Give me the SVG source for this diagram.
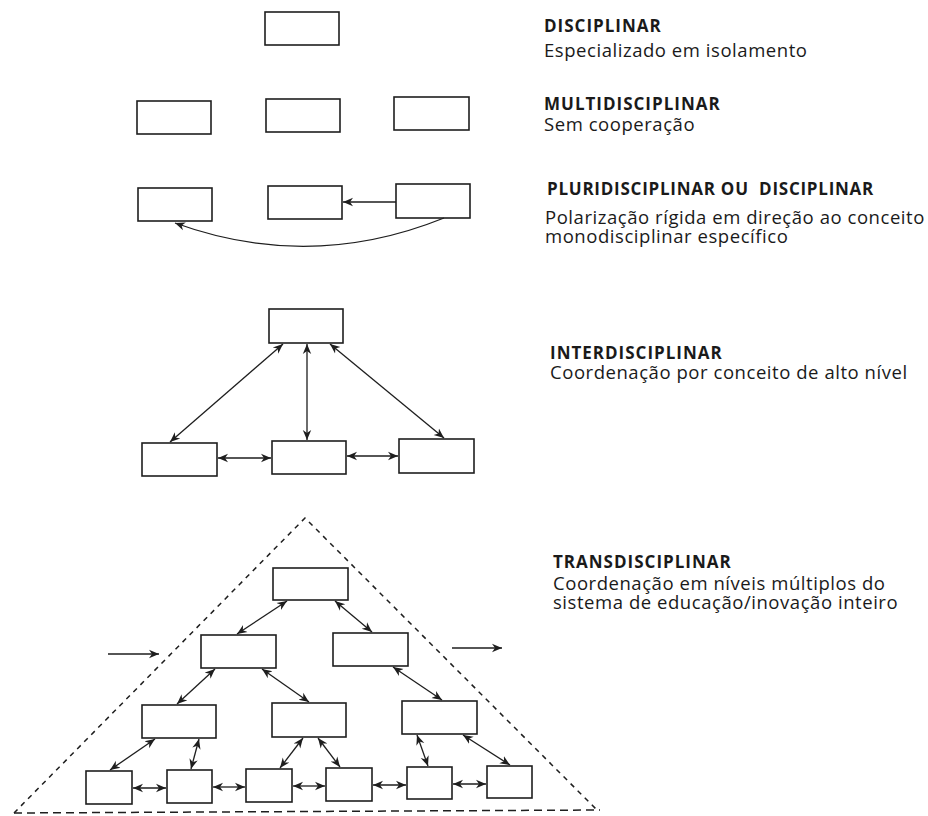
<svg xmlns="http://www.w3.org/2000/svg" width="928" height="816" viewBox="0 0 928 816">
<style>
.box{fill:#fff;stroke:#1e1e1e;stroke-width:1.6}
.ln{fill:none;stroke:#1e1e1e;stroke-width:1.3}
.ar{marker-end:url(#ah)}
.dr{marker-start:url(#ah);marker-end:url(#ah)}
.dash{fill:none;stroke:#1e1e1e;stroke-width:1.5;stroke-dasharray:5,5}
.dashb{fill:none;stroke:#1e1e1e;stroke-width:1.5;stroke-dasharray:8,5}
.t{font-family:"Open Sans","Noto Sans",sans-serif;font-weight:bold;font-size:17px;letter-spacing:1px;fill:#1a1a1a;white-space:pre}
.d{font-family:"Open Sans","Noto Sans",sans-serif;font-size:18.5px;letter-spacing:0.55px;fill:#1a1a1a}
</style>
<defs>
<marker id="ah" viewBox="0 0 10 10" refX="10" refY="5" markerWidth="10" markerHeight="10" markerUnits="userSpaceOnUse" orient="auto-start-reverse">
<path d="M0,0.8 L10,5 L0,9.2 L3,5 z" fill="#1e1e1e"/>
</marker>
</defs>
<rect width="928" height="816" fill="#fff"/>

<g id="disciplinar">
<rect id="d1" class="box" x="265" y="12" width="74" height="33"/>
</g>
<g id="multidisciplinar">
<rect id="m1" class="box" x="137" y="101" width="74" height="33"/>
<rect id="m2" class="box" x="266" y="99" width="74" height="33"/>
<rect id="m3" class="box" x="394" y="97" width="75" height="33"/>
</g>
<g id="pluridisciplinar">
<rect id="p1" class="box" x="138" y="188" width="74" height="33"/>
<rect id="p2" class="box" x="268" y="186" width="74" height="33"/>
<rect id="p3" class="box" x="396" y="184" width="74" height="34"/>
</g>
<g id="interdisciplinar">
<rect id="i0" class="box" x="269" y="309" width="74" height="34"/>
<rect id="i1" class="box" x="142" y="443" width="75" height="33"/>
<rect id="i2" class="box" x="272" y="441" width="74" height="33"/>
<rect id="i3" class="box" x="399" y="439" width="75" height="34"/>
</g>
<g id="transdisciplinar">
<rect id="t0" class="box" x="273" y="568" width="75" height="32"/>
<rect id="t1" class="box" x="201" y="635" width="75" height="33"/>
<rect id="t2" class="box" x="333" y="633" width="75" height="33"/>
<rect id="t3" class="box" x="142" y="705" width="74" height="33"/>
<rect id="t4" class="box" x="272" y="703" width="74" height="34"/>
<rect id="t5" class="box" x="402" y="701" width="75" height="33"/>
<rect id="b1" class="box" x="86" y="771" width="46" height="33"/>
<rect id="b2" class="box" x="167" y="770" width="45" height="33"/>
<rect id="b3" class="box" x="246" y="769" width="46" height="33"/>
<rect id="b4" class="box" x="326" y="768" width="46" height="33"/>
<rect id="b5" class="box" x="407" y="767" width="45" height="32"/>
<rect id="b6" class="box" x="487" y="766" width="45" height="32"/>
</g>

<g id="connectors">
<line class="ln ar" x1="396" y1="202" x2="343" y2="202"/>
<path class="ln ar" d="M444,218 Q310,272 175,223"/>

<line class="ln dr" x1="283" y1="344" x2="170" y2="442"/>
<line class="ln dr" x1="307" y1="344" x2="307" y2="440"/>
<line class="ln dr" x1="330" y1="344" x2="444" y2="438"/>
<line class="ln dr" x1="218" y1="458" x2="271" y2="458"/>
<line class="ln dr" x1="347" y1="456" x2="398" y2="456"/>

<polyline class="dash" points="14,813 305,518 598,811"/>
<line class="dashb" x1="14" y1="813" x2="600" y2="810"/>
<line class="ln ar" x1="108" y1="654" x2="159" y2="654"/>
<line class="ln ar" x1="452" y1="648" x2="502" y2="648"/>

<line class="ln dr" x1="287" y1="601" x2="237" y2="634"/>
<line class="ln dr" x1="335" y1="601" x2="372" y2="632"/>
<line class="ln dr" x1="215" y1="669" x2="177" y2="704"/>
<line class="ln dr" x1="262" y1="669" x2="309" y2="702"/>
<line class="ln dr" x1="393" y1="667" x2="442" y2="700"/>
<line class="ln dr" x1="155" y1="739" x2="110" y2="770"/>
<line class="ln dr" x1="199" y1="739" x2="191" y2="769"/>
<line class="ln dr" x1="303" y1="738" x2="280" y2="768"/>
<line class="ln dr" x1="318" y1="738" x2="340" y2="767"/>
<line class="ln dr" x1="417" y1="735" x2="428" y2="766"/>
<line class="ln dr" x1="463" y1="735" x2="510" y2="765"/>
<line class="ln dr" x1="133" y1="788" x2="166" y2="788"/>
<line class="ln dr" x1="213" y1="787" x2="245" y2="787"/>
<line class="ln dr" x1="293" y1="786" x2="325" y2="786"/>
<line class="ln dr" x1="373" y1="785" x2="406" y2="785"/>
<line class="ln dr" x1="453" y1="784" x2="486" y2="784"/>
</g>

<g id="labels">
<text class="t" x="544" y="32">DISCIPLINAR</text>
<text class="d" x="544" y="57">Especializado em isolamento</text>
<text class="t" x="544" y="110">MULTIDISCIPLINAR</text>
<text class="d" x="544" y="131">Sem cooperação</text>
<text class="t" x="547" y="195" style="letter-spacing:0.75px">PLURIDISCIPLINAR OU  DISCIPLINAR</text>
<text class="d" x="545" y="224">Polarização rígida em direção ao conceito</text>
<text class="d" x="545" y="243">monodisciplinar específico</text>
<text class="t" x="550" y="359">INTERDISCIPLINAR</text>
<text class="d" x="550" y="379">Coordenação por conceito de alto nível</text>
<text class="t" x="553" y="568">TRANSDISCIPLINAR</text>
<text class="d" x="553" y="590">Coordenação em níveis múltiplos do</text>
<text class="d" x="553" y="609">sistema de educação/inovação inteiro</text>
</g>
</svg>
